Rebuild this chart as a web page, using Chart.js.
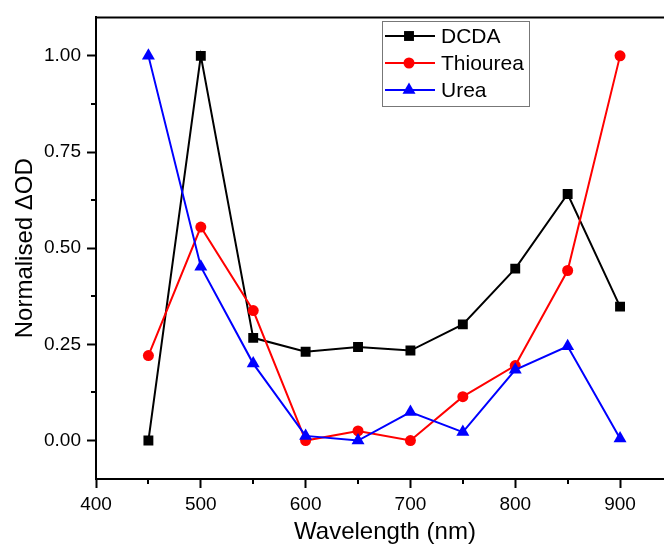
<!DOCTYPE html>
<html>
<head>
<meta charset="utf-8">
<script src="https://cdn.jsdelivr.net/npm/chart.js@4"></script>
<style>
  html, body { margin: 0; padding: 0; background: #fff; overflow: hidden; }
  #wrap { width: 751px; height: 552px; }
</style>
</head>
<body>
<div id="wrap"><canvas id="odChart" width="751" height="552"></canvas></div>
<script>
// wavelengths (nm)
const wavelengths = [450, 500, 550, 600, 650, 700, 750, 800, 850, 900];

// normalised delta OD values
const dcda     = [0.00, 1.00, 0.267, 0.231, 0.243, 0.234, 0.302, 0.447, 0.641, 0.348];
const thiourea = [0.221, 0.555, 0.338, 0.00, 0.025, 0.00, 0.114, 0.195, 0.442, 1.00];
const urea     = [1.00, 0.452, 0.200, 0.012, 0.00, 0.074, 0.022, 0.184, 0.245, 0.005];

// tick values
const xMajorTicks = [400, 500, 600, 700, 800, 900, 1000];
const xMinorTicks = [450, 550, 650, 750, 850, 950];
const yMajorTicks = [0, 0.25, 0.5, 0.75, 1.0];
const yMinorTicks = [0.125, 0.375, 0.625, 0.875];

const xTitle = 'Wavelength (nm)';
const yTitle = 'Normalised \u0394OD';

const FONT = "'Liberation Sans', Arial, sans-serif";

function toPoints(ys) {
    return wavelengths.map((x, i) => ({ x: x, y: ys[i] }));
}

// minor ticks, top/right frame and the x title (centred like the original, not on the full axis)
const framePlugin = {
    id: 'frame',
    afterDraw(chart) {
        const ctx = chart.ctx;
        const area = chart.chartArea;
        const xs = chart.scales.x;
        const ys = chart.scales.y;
        ctx.save();
        ctx.strokeStyle = '#000';
        ctx.lineWidth = 2;
        ctx.beginPath();
        ctx.moveTo(area.left - 1, area.top);
        ctx.lineTo(area.right, area.top);
        ctx.lineTo(area.right, area.bottom);
        ctx.stroke();

        ctx.beginPath();
        xMinorTicks.forEach(v => {
            const px = Math.round(xs.getPixelForValue(v));
            ctx.moveTo(px, area.bottom);
            ctx.lineTo(px, area.bottom + 5);
        });
        yMinorTicks.forEach(v => {
            const py = Math.round(ys.getPixelForValue(v));
            ctx.moveTo(area.left, py);
            ctx.lineTo(area.left - 5, py);
        });
        ctx.stroke();

        ctx.fillStyle = '#000';
        ctx.font = '24px ' + FONT;
        ctx.textAlign = 'center';
        ctx.textBaseline = 'alphabetic';
        ctx.fillText(xTitle, 385, 539);
        ctx.restore();
    }
};

// Origin-style legend: line with marker in the middle
const legendPlugin = {
    id: 'boxLegend',
    afterDraw(chart) {
        const ctx = chart.ctx;
        const left = 382, top = 21, w = 147, h = 85;
        ctx.save();
        ctx.fillStyle = '#fff';
        ctx.fillRect(left, top, w, h);
        ctx.strokeStyle = '#777';
        ctx.lineWidth = 1;
        ctx.strokeRect(left + 0.5, top + 0.5, w, h);
        ctx.font = '21px ' + FONT;
        ctx.textBaseline = 'middle';
        chart.data.datasets.forEach((ds, i) => {
            const y = 36 + i * 27;
            ctx.strokeStyle = ds.borderColor;
            ctx.lineWidth = 2;
            ctx.beginPath();
            ctx.moveTo(385, y);
            ctx.lineTo(435, y);
            ctx.stroke();
            ctx.fillStyle = ds.backgroundColor;
            Chart.helpers.drawPoint(ctx, {
                pointStyle: ds.pointStyle,
                radius: ds.pointRadius,
                rotation: 0,
                borderWidth: 0
            }, 409, y);
            ctx.fillStyle = '#000';
            ctx.fillText(ds.label, 441, y + 1);
        });
        ctx.restore();
    }
};

const ctx = document.getElementById('odChart').getContext('2d');
new Chart(ctx, {
    type: 'line',
    data: {
        datasets: [
            {
                label: 'DCDA',
                data: toPoints(dcda),
                borderColor: '#000000',
                backgroundColor: '#000000',
                borderWidth: 2,
                pointStyle: 'rect',
                pointRadius: 7,
                pointBorderWidth: 0,
                order: 2
            },
            {
                label: 'Thiourea',
                data: toPoints(thiourea),
                borderColor: '#ff0000',
                backgroundColor: '#ff0000',
                borderWidth: 2,
                pointStyle: 'circle',
                pointRadius: 5.5,
                pointBorderWidth: 0,
                order: 1
            },
            {
                label: 'Urea',
                data: toPoints(urea),
                borderColor: '#0000ff',
                backgroundColor: '#0000ff',
                borderWidth: 2,
                pointStyle: 'triangle',
                pointRadius: 7.5,
                pointBorderWidth: 0,
                order: 0
            }
        ]
    },
    options: {
        responsive: false,
        animation: false,
        layout: { padding: { top: 16, right: 0, left: 0, bottom: 0 } },
        plugins: {
            legend: { display: false },
            tooltip: { enabled: false }
        },
        scales: {
            x: {
                type: 'linear',
                min: 400,
                max: 1000,
                afterBuildTicks: s => { s.ticks = xMajorTicks.map(v => ({ value: v })); },
                afterFit: s => { s.height = 73; },
                border: { color: '#000', width: 2 },
                grid: {
                    drawOnChartArea: false,
                    drawTicks: true,
                    tickLength: 9,
                    tickColor: '#000',
                    tickWidth: 2
                },
                ticks: {
                    color: '#000',
                    padding: 5,
                    maxRotation: 0,
                    font: { family: FONT, size: 19 },
                    callback: v => String(v)
                },
                title: { display: false }
            },
            y: {
                type: 'linear',
                min: -0.1,
                max: 1.1,
                afterBuildTicks: s => { s.ticks = yMajorTicks.map(v => ({ value: v })); },
                afterFit: s => { s.width = 96; },
                border: { color: '#000', width: 2 },
                grid: {
                    drawOnChartArea: false,
                    drawTicks: true,
                    tickLength: 9,
                    tickColor: '#000',
                    tickWidth: 2
                },
                ticks: {
                    color: '#000',
                    padding: 6,
                    font: { family: FONT, size: 19 },
                    callback: v => v.toFixed(2)
                },
                title: {
                    display: true,
                    text: yTitle,
                    color: '#000',
                    font: { family: FONT, size: 24 },
                    padding: { top: 11, bottom: 0 }
                }
            }
        }
    },
    plugins: [framePlugin, legendPlugin]
});
</script>
</body>
</html>
